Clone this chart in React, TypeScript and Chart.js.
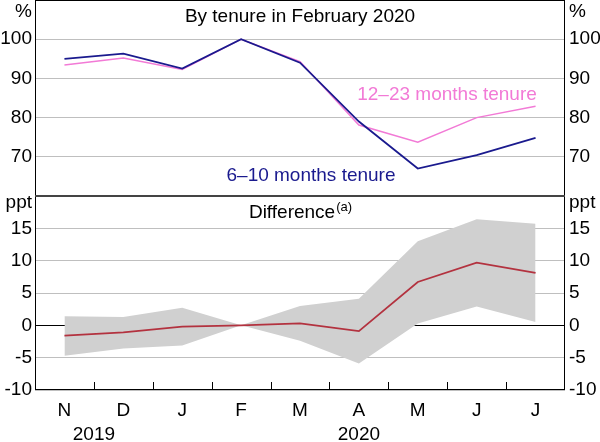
import React, { useEffect, useRef } from 'react';
import { Chart, registerables } from 'chart.js';

Chart.register(...registerables);

const categories = ['N', 'D', 'J', 'F', 'M', 'A', 'M', 'J', 'J'];
const yearLabels = ['2019', '2020'];
const yearFrom = [0, 2];
const yearTo = [1, 8];

const tenure6to10 = [95.0, 96.3, 92.5, 100.0, 94.0, 79.0, 67.0, 70.4, 74.8];
const tenure12to23 = [93.4, 95.2, 92.3, 100.0, 94.3, 78.1, 73.7, 80.0, 82.9];
const difference = [-1.6, -1.1, -0.2, 0.0, 0.3, -0.9, 6.7, 9.7, 8.1];
const upperBand = [1.4, 1.3, 2.7, 0.0, 3.0, 4.1, 13.0, 16.4, 15.7];
const lowerBand = [-4.7, -3.6, -3.1, 0.0, -2.4, -5.9, 0.3, 2.9, 0.5];

const topTicks = [70, 80, 90, 100];
const bottomTicks = [-10, -5, 0, 5, 10, 15];

const NAVY = '#1a1a8e';
const PINK = '#f27ad6';
const RED = '#b3323f';
const BAND = '#d0d0d0';
const GRID = '#bfbfbf';
const FAMILY = "'Liberation Sans', Arial, sans-serif";
const font = { family: FAMILY, size: 19 };

const fitY = (s: any) => {
  s.width = 35;
  s.paddingTop = 0;
  s.paddingBottom = 0;
};

function framePlugin(id: string, topColor: string, topWidth: number, withTicks: boolean) {
  return {
    id,
    afterDraw(chart: any) {
      const { ctx, chartArea: a } = chart;
      ctx.save();
      ctx.strokeStyle = '#000';
      ctx.lineWidth = 1;
      ctx.beginPath();
      ctx.moveTo(a.left + 0.5, a.top);
      ctx.lineTo(a.left + 0.5, a.bottom);
      ctx.moveTo(a.right - 0.5, a.top);
      ctx.lineTo(a.right - 0.5, a.bottom);
      ctx.moveTo(a.left, a.bottom - 0.5);
      ctx.lineTo(a.right, a.bottom - 0.5);
      ctx.stroke();
      ctx.strokeStyle = topColor;
      ctx.lineWidth = topWidth;
      ctx.beginPath();
      ctx.moveTo(a.left, a.top + (topWidth % 2 ? 0.5 : 0));
      ctx.lineTo(a.right, a.top + (topWidth % 2 ? 0.5 : 0));
      ctx.stroke();
      if (withTicks) {
        const xs = chart.scales.x;
        ctx.strokeStyle = '#000';
        ctx.lineWidth = 1;
        ctx.beginPath();
        for (let i = 0; i < categories.length - 1; i++) {
          const x = Math.round((xs.getPixelForValue(i) + xs.getPixelForValue(i + 1)) / 2) + 0.5;
          ctx.moveTo(x, a.bottom);
          ctx.lineTo(x, a.bottom - 8);
        }
        ctx.stroke();
      }
      ctx.restore();
    },
  };
}

const topTextPlugin = {
  id: 'topText',
  afterDraw(chart: any) {
    const { ctx } = chart;
    ctx.save();
    ctx.font = `19px ${FAMILY}`;
    ctx.textBaseline = 'middle';
    ctx.fillStyle = '#000';
    ctx.textAlign = 'center';
    ctx.fillText('By tenure in February 2020', 300, 17);
    ctx.textAlign = 'right';
    ctx.fillText('%', 32, 12);
    ctx.textAlign = 'left';
    ctx.fillText('%', 569, 12);
    ctx.textAlign = 'center';
    ctx.fillStyle = NAVY;
    ctx.fillText('6–10 months tenure', 311, 176);
    ctx.fillStyle = PINK;
    ctx.fillText('12–23 months tenure', 447, 95);
    ctx.restore();
  },
};

const bottomTextPlugin = {
  id: 'bottomText',
  afterDraw(chart: any) {
    const { ctx } = chart;
    const xs = chart.scales.x;
    ctx.save();
    ctx.fillStyle = '#000';
    ctx.textBaseline = 'middle';
    ctx.font = `19px ${FAMILY}`;
    const main = 'Difference';
    const w1 = ctx.measureText(main).width;
    ctx.font = `13px ${FAMILY}`;
    const sup = '(a)';
    const w2 = ctx.measureText(sup).width;
    const start = 300 - (w1 + w2) / 2;
    ctx.font = `19px ${FAMILY}`;
    ctx.textAlign = 'left';
    ctx.fillText(main, start, 18);
    ctx.font = `13px ${FAMILY}`;
    ctx.fillText(sup, start + w1 + 1, 12);
    ctx.font = `19px ${FAMILY}`;
    ctx.textAlign = 'right';
    ctx.fillText('ppt', 32, 8);
    ctx.textAlign = 'left';
    ctx.fillText('ppt', 569, 8);
    ctx.textAlign = 'center';
    for (let i = 0; i < yearLabels.length; i++) {
      const x = (xs.getPixelForValue(yearFrom[i]) + xs.getPixelForValue(yearTo[i])) / 2;
      ctx.fillText(yearLabels[i], x, 240);
    }
    ctx.restore();
  },
};

export default function App() {
  const topRef = useRef<HTMLCanvasElement>(null);
  const botRef = useRef<HTMLCanvasElement>(null);

  useEffect(() => {
    const top = new Chart(topRef.current as HTMLCanvasElement, {
      type: 'line',
      data: {
        labels: categories,
        datasets: [
          { data: tenure6to10, borderColor: NAVY, borderWidth: 1.8, pointRadius: 0, tension: 0, fill: false },
          { data: tenure12to23, borderColor: PINK, borderWidth: 1.5, pointRadius: 0, tension: 0, fill: false },
        ],
      },
      options: {
        animation: false,
        responsive: false,
        maintainAspectRatio: false,
        layout: { autoPadding: false, padding: { top: 0, bottom: 0, left: 0, right: 0 } },
        plugins: { legend: { display: false }, tooltip: { enabled: false }, title: { display: false } },
        scales: {
          x: { display: false, offset: true },
          y: {
            position: 'left',
            min: 60,
            max: 110,
            afterBuildTicks: (s: any) => { s.ticks = topTicks.map((v) => ({ value: v })); },
            afterFit: fitY,
            ticks: { font, color: '#000', padding: 3 },
            grid: { color: GRID, drawTicks: false, lineWidth: 1 },
            border: { display: false },
          },
          y2: {
            position: 'right',
            min: 60,
            max: 110,
            afterBuildTicks: (s: any) => { s.ticks = topTicks.map((v) => ({ value: v })); },
            afterFit: fitY,
            ticks: { font, color: '#000', padding: 4 },
            grid: { display: false, drawTicks: false },
            border: { display: false },
          },
        },
      } as any,
      plugins: [framePlugin('frameTop', '#000', 1, false), topTextPlugin],
    });

    const bottom = new Chart(botRef.current as HTMLCanvasElement, {
      type: 'line',
      data: {
        labels: categories,
        datasets: [
          { data: difference, borderColor: RED, borderWidth: 1.8, pointRadius: 0, tension: 0, fill: false, order: 0 },
          { data: upperBand, borderWidth: 0, borderColor: 'rgba(0,0,0,0)', backgroundColor: BAND, pointRadius: 0, tension: 0, fill: '+1', order: 1 },
          { data: lowerBand, borderWidth: 0, borderColor: 'rgba(0,0,0,0)', pointRadius: 0, tension: 0, fill: false, order: 2 },
        ],
      },
      options: {
        animation: false,
        responsive: false,
        maintainAspectRatio: false,
        layout: { autoPadding: false, padding: { top: 1, bottom: 0, left: 0, right: 0 } },
        plugins: { legend: { display: false }, tooltip: { enabled: false }, title: { display: false } },
        scales: {
          x: {
            offset: true,
            afterFit: (s: any) => { s.height = 52; s.paddingLeft = 0; s.paddingRight = 0; },
            ticks: { font, color: '#000', padding: 9, autoSkip: false, maxRotation: 0 },
            grid: { display: false, drawTicks: false },
            border: { display: false },
          },
          y: {
            position: 'left',
            min: -10,
            max: 20,
            afterBuildTicks: (s: any) => { s.ticks = bottomTicks.map((v) => ({ value: v })); },
            afterFit: fitY,
            ticks: { font, color: '#000', padding: 3 },
            grid: {
              color: (c: any) => (c.tick && c.tick.value === 0 ? '#000' : GRID),
              drawTicks: false,
              lineWidth: 1,
            },
            border: { display: false },
          },
          y2: {
            position: 'right',
            min: -10,
            max: 20,
            afterBuildTicks: (s: any) => { s.ticks = bottomTicks.map((v) => ({ value: v })); },
            afterFit: fitY,
            ticks: { font, color: '#000', padding: 4 },
            grid: { display: false, drawTicks: false },
            border: { display: false },
          },
        },
      } as any,
      plugins: [framePlugin('frameBottom', '#444', 2, true), bottomTextPlugin],
    });

    return () => {
      top.destroy();
      bottom.destroy();
    };
  }, []);

  return (
    <div style={{ position: 'fixed', left: 0, top: 0, width: 600, height: 442, background: '#fff' }}>
      <canvas ref={topRef} width={600} height={196} style={{ position: 'absolute', left: 0, top: 0, width: 600, height: 196 }} />
      <canvas ref={botRef} width={600} height={247} style={{ position: 'absolute', left: 0, top: 195, width: 600, height: 247 }} />
    </div>
  );
}
